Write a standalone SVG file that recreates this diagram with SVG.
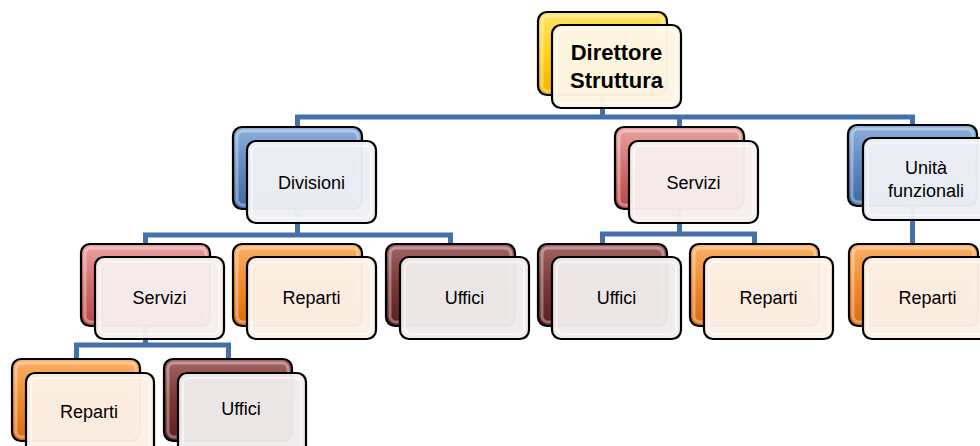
<svg xmlns="http://www.w3.org/2000/svg" width="980" height="446" viewBox="0 0 980 446">
  <defs>
    <linearGradient id="gYellow" x1="0" y1="0" x2="0" y2="1">
      <stop offset="0" stop-color="#FFE36A"/>
      <stop offset="0.5" stop-color="#FFD21F"/>
      <stop offset="1" stop-color="#F0B000"/>
    </linearGradient>
    <linearGradient id="gBlue" x1="0" y1="0" x2="0" y2="1">
      <stop offset="0" stop-color="#8EAFD9"/>
      <stop offset="0.5" stop-color="#5F88C0"/>
      <stop offset="1" stop-color="#3F68A2"/>
    </linearGradient>
    <linearGradient id="gRed" x1="0" y1="0" x2="0" y2="1">
      <stop offset="0" stop-color="#E8A3A1"/>
      <stop offset="0.5" stop-color="#D16F6C"/>
      <stop offset="1" stop-color="#B44845"/>
    </linearGradient>
    <linearGradient id="gOrange" x1="0" y1="0" x2="0" y2="1">
      <stop offset="0" stop-color="#FAB16A"/>
      <stop offset="0.5" stop-color="#F08A2E"/>
      <stop offset="1" stop-color="#D86A10"/>
    </linearGradient>
    <linearGradient id="gBrown" x1="0" y1="0" x2="0" y2="1">
      <stop offset="0" stop-color="#A36664"/>
      <stop offset="0.5" stop-color="#7A3735"/>
      <stop offset="1" stop-color="#5A1F1D"/>
    </linearGradient>
  </defs>
  <style>
    .conn { fill: none; stroke: #4670A8; stroke-width: 5; stroke-linejoin: miter; }
    .back { stroke: #000; stroke-width: 2.2; }
    .bevel { fill: none; stroke: #FFFFFF; stroke-opacity: 0.35; stroke-width: 3; }
    .front { stroke: #000; stroke-width: 2.2; fill-opacity: 0.97; }
    .inner { fill: none; stroke: #FFFFFF; stroke-opacity: 0.5; stroke-width: 2; }
    .y { fill: url(#gYellow); }
    .b { fill: url(#gBlue); }
    .r { fill: url(#gRed); }
    .o { fill: url(#gOrange); }
    .w { fill: url(#gBrown); }
    .fy { fill: #FDF6E4; }
    .fb { fill: #EDF0F5; }
    .fr { fill: #F7EDED; }
    .fo { fill: #FCF0E6; }
    .fw { fill: #EFEBEB; }
    .lbl { font-family: "Liberation Sans", Arial, sans-serif; font-size: 18px; fill: #000; text-anchor: middle; }
    .bold { font-weight: bold; font-size: 22px; }
  </style>

  <g id="connectors">
    <path class="conn" d="M602.5,95 V117 M297.5,127 V117 H912.5 V126 M679.5,117 V127"/>
    <path class="conn" d="M297.5,209 V235 M145.5,244 V235 H450.5 V244"/>
    <path class="conn" d="M679.5,209 V234 M602.5,244 V234 H754.5 V244"/>
    <path class="conn" d="M912.5,207 V244"/>
    <path class="conn" d="M145.5,326 V345 M76.5,359 V345 H228.5 V359"/>
  </g>

  <g id="n-direttore" transform="translate(538,12)">
    <rect class="back y" x="0" y="0" width="129" height="83" rx="9"/>
    <rect class="bevel" x="4" y="4" width="121" height="75" rx="6"/>
    <rect class="front fy" x="14" y="13" width="129" height="83" rx="9"/>
    <rect class="inner" x="19" y="18" width="119" height="73" rx="6"/>
    <text class="lbl bold" x="78.5" y="48">Direttore</text>
    <text class="lbl bold" x="78.5" y="76">Struttura</text>
  </g>

  <g id="n-divisioni" transform="translate(233,127)">
    <rect class="back b" x="0" y="0" width="129" height="82" rx="9"/>
    <rect class="bevel" x="4" y="4" width="121" height="74" rx="6"/>
    <rect class="front fb" x="14" y="14" width="129" height="82" rx="9"/>
    <rect class="inner" x="19" y="19" width="119" height="72" rx="6"/>
    <text class="lbl" x="78.5" y="61.5">Divisioni</text>
  </g>

  <g id="n-servizi-1" transform="translate(615,127)">
    <rect class="back r" x="0" y="0" width="129" height="82" rx="9"/>
    <rect class="bevel" x="4" y="4" width="121" height="74" rx="6"/>
    <rect class="front fr" x="14" y="14" width="129" height="82" rx="9"/>
    <rect class="inner" x="19" y="19" width="119" height="72" rx="6"/>
    <text class="lbl" x="78.5" y="61.5">Servizi</text>
  </g>

  <g id="n-unita" transform="translate(848,125)">
    <rect class="back b" x="0" y="0" width="129" height="81" rx="9"/>
    <rect class="bevel" x="4" y="4" width="121" height="73" rx="6"/>
    <rect class="front fb" x="15" y="13" width="129" height="82" rx="9"/>
    <rect class="inner" x="20" y="18" width="119" height="72" rx="6"/>
    <text class="lbl" x="78" y="49">Unità</text>
    <text class="lbl" x="78" y="72">funzionali</text>
  </g>

  <g id="n-servizi-2" transform="translate(81,244)">
    <rect class="back r" x="0" y="0" width="129" height="82" rx="9"/>
    <rect class="bevel" x="4" y="4" width="121" height="74" rx="6"/>
    <rect class="front fr" x="14" y="13" width="129" height="82" rx="9"/>
    <rect class="inner" x="19" y="18" width="119" height="72" rx="6"/>
    <text class="lbl" x="78.5" y="59.5">Servizi</text>
  </g>

  <g id="n-reparti-1" transform="translate(233,244)">
    <rect class="back o" x="0" y="0" width="129" height="82" rx="9"/>
    <rect class="bevel" x="4" y="4" width="121" height="74" rx="6"/>
    <rect class="front fo" x="14" y="13" width="129" height="82" rx="9"/>
    <rect class="inner" x="19" y="18" width="119" height="72" rx="6"/>
    <text class="lbl" x="78.5" y="59.5">Reparti</text>
  </g>

  <g id="n-uffici-1" transform="translate(386,244)">
    <rect class="back w" x="0" y="0" width="129" height="82" rx="9"/>
    <rect class="bevel" x="4" y="4" width="121" height="74" rx="6"/>
    <rect class="front fw" x="14" y="13" width="129" height="82" rx="9"/>
    <rect class="inner" x="19" y="18" width="119" height="72" rx="6"/>
    <text class="lbl" x="78.5" y="59.5">Uffici</text>
  </g>

  <g id="n-uffici-2" transform="translate(538,244)">
    <rect class="back w" x="0" y="0" width="129" height="82" rx="9"/>
    <rect class="bevel" x="4" y="4" width="121" height="74" rx="6"/>
    <rect class="front fw" x="14" y="13" width="129" height="82" rx="9"/>
    <rect class="inner" x="19" y="18" width="119" height="72" rx="6"/>
    <text class="lbl" x="78.5" y="59.5">Uffici</text>
  </g>

  <g id="n-reparti-2" transform="translate(690,244)">
    <rect class="back o" x="0" y="0" width="129" height="82" rx="9"/>
    <rect class="bevel" x="4" y="4" width="121" height="74" rx="6"/>
    <rect class="front fo" x="14" y="13" width="129" height="82" rx="9"/>
    <rect class="inner" x="19" y="18" width="119" height="72" rx="6"/>
    <text class="lbl" x="78.5" y="59.5">Reparti</text>
  </g>

  <g id="n-reparti-3" transform="translate(849,244)">
    <rect class="back o" x="0" y="0" width="129" height="82" rx="9"/>
    <rect class="bevel" x="4" y="4" width="121" height="74" rx="6"/>
    <rect class="front fo" x="14" y="13" width="129" height="82" rx="9"/>
    <rect class="inner" x="19" y="18" width="119" height="72" rx="6"/>
    <text class="lbl" x="78.5" y="59.5">Reparti</text>
  </g>

  <g id="n-reparti-4" transform="translate(12,359)">
    <rect class="back o" x="0" y="0" width="128" height="82" rx="9"/>
    <rect class="bevel" x="4" y="4" width="120" height="74" rx="6"/>
    <rect class="front fo" x="14" y="14" width="128" height="82" rx="9"/>
    <rect class="inner" x="19" y="19" width="118" height="72" rx="6"/>
    <text class="lbl" x="77" y="59">Reparti</text>
  </g>

  <g id="n-uffici-3" transform="translate(164,359)">
    <rect class="back w" x="0" y="0" width="128" height="82" rx="9"/>
    <rect class="bevel" x="4" y="4" width="120" height="74" rx="6"/>
    <rect class="front fw" x="14" y="14" width="128" height="82" rx="9"/>
    <rect class="inner" x="19" y="19" width="118" height="72" rx="6"/>
    <text class="lbl" x="77" y="56">Uffici</text>
  </g>
</svg>
